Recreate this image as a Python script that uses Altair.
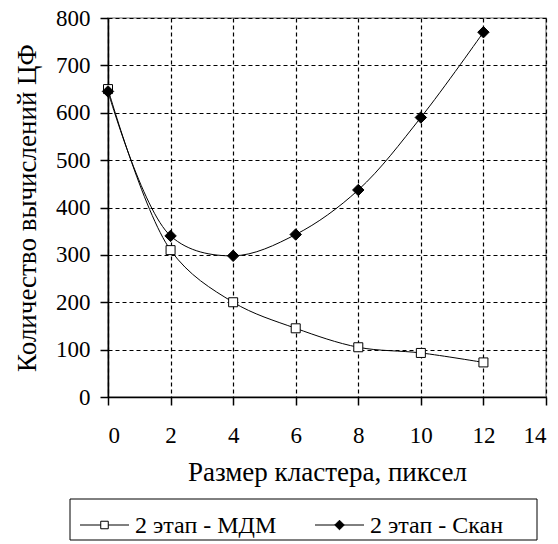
import altair as alt
import pandas as pd

# Cluster sizes (pixels) and number of objective-function evaluations
cluster_size = [0, 2, 4, 6, 8, 10, 12]
mdm_counts = [650, 310, 200, 145, 105, 93, 73]
scan_counts = [645, 340, 298, 343, 437, 590, 770]
series_names = ["2 этап - МДМ", "2 этап - Скан"]
series_shapes = ["square", "diamond"]
series_fills = ["white", "black"]
series_sizes = [81, 130]

x_ticks = [0, 2, 4, 6, 8, 10, 12, 14]
y_ticks = [0, 100, 200, 300, 400, 500, 600, 700, 800]

rows = []
for name, values in zip(series_names, [mdm_counts, scan_counts]):
    for s, v in zip(cluster_size, values):
        rows.append({"cluster": s, "count": v, "series": name})
df = pd.DataFrame(rows)

FONT = "Liberation Serif"
LABEL_FS = 23
TITLE_FS = 27
LEGEND_FS = 24

axis_style = dict(
    labelFont=FONT,
    labelFontSize=LABEL_FS,
    labelColor="black",
    titleFont=FONT,
    titleFontSize=TITLE_FS,
    titleFontWeight="normal",
    titleColor="black",
    domainColor="black",
    domainWidth=1.5,
    tickColor="black",
    tickWidth=1.5,
    tickSize=8,
    gridColor="black",
    gridDash=[4, 3],
    gridWidth=1.2,
)

x_enc = alt.X(
    "cluster:Q",
    scale=alt.Scale(domain=[0, 14], nice=False),
    axis=alt.Axis(
        values=x_ticks,
        title="Размер кластера, пиксел",
        labelPadding=19,
        titlePadding=12,
        **axis_style,
    ),
)
y_enc = alt.Y(
    "count:Q",
    scale=alt.Scale(domain=[0, 800], nice=False),
    axis=alt.Axis(
        values=y_ticks,
        title="Количество вычислений ЦФ",
        labelPadding=10,
        titlePadding=14,
        **axis_style,
    ),
)

layers = [
    alt.Chart(df).mark_line(
        interpolate="catmull-rom", color="black", strokeWidth=1
    ).encode(x=x_enc, y=y_enc, detail="series:N")
]

# Markers for each series, with its own shape and fill
for name, shape, fill, msize in zip(series_names, series_shapes, series_fills, series_sizes):
    layers.append(
        alt.Chart(df).transform_filter(alt.datum.series == name).mark_point(
            shape=shape, filled=True, fill=fill, stroke="black", strokeWidth=1,
            opacity=1, size=msize,
        ).encode(x=x_enc, y=y_enc)
    )

# Legend drawn below the plot: framed box with a line+marker sample per series
one = pd.DataFrame({"k": [0]})
layers.append(
    alt.Chart(one).mark_rect(fill="white", stroke="black", strokeWidth=1).encode(
        x=alt.value(-38), x2=alt.value(429), y=alt.value(481), y2=alt.value(522)
    )
)
entry_starts = [-28, 207]
LEG_Y = 507
for name, shape, fill, msize, x0 in zip(series_names, series_shapes, series_fills, series_sizes, entry_starts):
    layers.append(
        alt.Chart(one).mark_rule(color="black", strokeWidth=1).encode(
            x=alt.value(x0), x2=alt.value(x0 + 49), y=alt.value(LEG_Y)
        )
    )
    layers.append(
        alt.Chart(one).mark_point(
            shape=shape, fill=fill, filled=True, stroke="black", strokeWidth=1,
            opacity=1, size=msize * 0.7,
        ).encode(x=alt.value(x0 + 24.5), y=alt.value(LEG_Y))
    )
    layers.append(
        alt.Chart(one).mark_text(
            align="left", baseline="middle", font=FONT, fontSize=LEGEND_FS, color="black"
        ).encode(x=alt.value(x0 + 55), y=alt.value(LEG_Y + 1), text=alt.value(name))
    )

chart = alt.layer(*layers).properties(
    width=438,
    height=379,
    autosize="none",
    padding={"left": 108, "top": 18, "right": 12, "bottom": 147},
    view=alt.ViewBackground(stroke="#999999", strokeWidth=1.5),
)

chart.save("out.html", embed_options={"renderer": "svg", "actions": False})
